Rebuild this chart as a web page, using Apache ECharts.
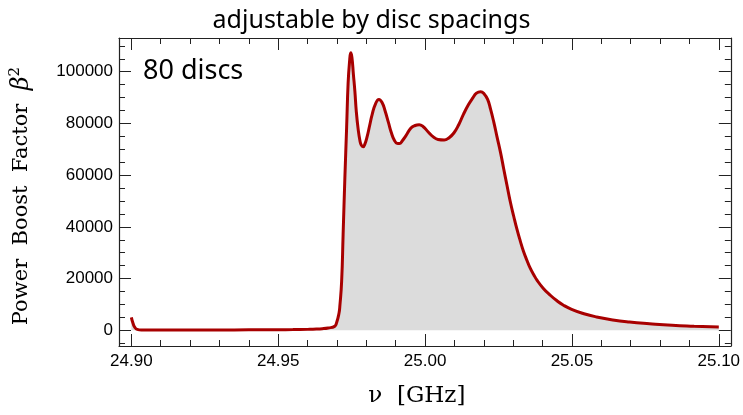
<!DOCTYPE html>
<html>
<head>
<meta charset="utf-8">
<script src="https://cdn.jsdelivr.net/npm/echarts@6/dist/echarts.min.js"></script>
<style>
html,body{margin:0;padding:0;background:#fff;}
#chart{width:743px;height:415px;}
</style>
</head>
<body>
<div id="chart"></div>
<script>
const titleText = 'adjustable by disc spacings';
const annotation = '80 discs';
const freq = [24.9000,24.9006,24.9012,24.9020,24.9035,24.910,24.920,24.930,24.940,24.950,24.955,24.960,24.963,24.965,24.967,
24.9692,24.9699,24.9707,24.9710,24.9716,24.9721,24.9727,24.9733,24.9738,24.9743,24.9747,24.9751,24.9756,24.9761,24.9766,24.9772,24.9778,24.9783,24.9789,24.9795,
24.9803,24.9811,24.9820,24.9831,24.9843,24.9854,24.9864,24.9875,24.9885,24.9895,24.9905,24.9913,24.9922,24.9935,24.9952,24.9966,24.9980,24.9993,
25.0010,25.0027,25.0044,25.0065,25.0081,25.0098,25.0115,25.0131,25.0148,25.0162,25.0175,25.0189,25.0202,25.0213,25.0223,25.0234,25.0245,25.0257,25.0268,25.0279,
25.0290,25.0302,25.0313,25.0324,25.0335,25.0347,25.0358,25.0370,25.0381,25.0402,25.0426,25.0448,25.0470,25.0499,25.0541,25.0584,25.0639,25.0696,25.0764,25.0841,25.0916,25.1000];
const boost = [5000,2600,1100,350,130,100,110,130,160,210,260,350,450,600,900,
1500,3000,6600,9500,19000,37000,59000,78500,95500,104000,107300,105500,99000,92500,84500,78000,73500,71600,71000,72000,
75000,79000,83500,87500,89300,88000,84800,80500,76500,73600,72300,72200,73200,75300,78200,79200,79500,78800,
76800,74900,73800,73600,74400,76300,79600,83600,87300,89800,91700,92300,91300,89300,85500,80500,74800,68700,62300,56000,
49800,44000,39000,34600,30600,27000,24000,21500,19400,16300,13600,11500,9800,8100,6400,5150,4000,3200,2550,1950,1600,1300];
const xMajor = [24.90, 24.95, 25.00, 25.05, 25.10];
const xMinor = [24.91,24.92,24.93,24.94,24.96,24.97,24.98,24.99,25.01,25.02,25.03,25.04,25.06,25.07,25.08,25.09];
const yMajor = [0, 20000, 40000, 60000, 80000, 100000];
const yMinor = [-5000,5000,10000,15000,25000,30000,35000,45000,50000,55000,65000,70000,75000,85000,90000,95000,105000,110000];
const X_MIN = 24.8958, X_MAX = 25.1041;
const Y_MIN = -6080, Y_MAX = 113045;

const frameColor = '#222';
function xAx(pos, values, len, showLine, showLabel) {
  return {
    type: 'value', position: pos, min: X_MIN, max: X_MAX, offset: 0,
    axisLine: {show: showLine, onZero: false, lineStyle: {color: frameColor, width: 1.2}},
    axisTick: {show: true, inside: true, length: len, customValues: values, lineStyle: {color: frameColor, width: 1}},
    axisLabel: showLabel ? {show: true, customValues: values, margin: 7, color: '#000', fontFamily: 'Liberation Sans', fontSize: 17,
      formatter: v => v.toFixed(2)} : {show: false},
    splitLine: {show: false}
  };
}
function yAx(pos, values, len, showLine, showLabel) {
  return {
    type: 'value', position: pos, min: Y_MIN, max: Y_MAX, offset: 0,
    axisLine: {show: showLine, onZero: false, lineStyle: {color: frameColor, width: 1.2}},
    axisTick: {show: true, inside: true, length: len, customValues: values, lineStyle: {color: frameColor, width: 1}},
    axisLabel: showLabel ? {show: true, customValues: values, margin: 6, color: '#000', fontFamily: 'Liberation Sans', fontSize: 17,
      formatter: v => String(v)} : {show: false},
    splitLine: {show: false}
  };
}

const xAxes = [
  xAx('bottom', xMajor, 12, true, true),
  xAx('bottom', xMinor, 6, false, false),
  xAx('top', xMajor, 12, true, false),
  xAx('top', xMinor, 6, false, false)
];
xAxes[0].name = 'ν  [GHz]';
xAxes[0].nameLocation = 'middle';
xAxes[0].nameGap = 39;
xAxes[0].nameTextStyle = {fontFamily: 'DejaVu Serif', fontSize: 23, color: '#000', padding: [0, 16, 0, 0]};

const yAxes = [
  yAx('left', yMajor, 12, true, true),
  yAx('left', yMinor, 6, false, false),
  yAx('right', yMajor, 12, true, false),
  yAx('right', yMinor, 6, false, false)
];
yAxes[0].name = '{t|Power  Boost  Factor  }{b|β}{s|2}';
yAxes[0].nameLocation = 'middle';
yAxes[0].nameGap = 84;
yAxes[0].nameTextStyle = {
  color: '#000',
  padding: [0, 8, 0, 0],
  rich: {
    t: {fontFamily: 'DejaVu Serif', fontSize: 21, color: '#000'},
    b: {fontFamily: 'DejaVu Serif', fontStyle: 'italic', fontSize: 24, color: '#000'},
    s: {fontFamily: 'DejaVu Serif', fontSize: 15, color: '#000', verticalAlign: 'top', padding: [0, 0, 12, 0]}
  }
};

const chart = echarts.init(document.getElementById('chart'), null, {renderer: 'canvas'});
chart.setOption({
  animation: false,
  backgroundColor: '#fff',
  title: {
    text: titleText, left: 'center', top: 3,
    textStyle: {fontFamily: 'Noto Sans', fontWeight: 'normal', fontSize: 25, color: '#000'}
  },
  grid: {left: 116, right: 11, top: 38, bottom: 69},
  xAxis: xAxes,
  yAxis: yAxes,
  graphic: [{
    type: 'text', left: 143, top: 58,
    style: {text: annotation, fontFamily: 'Noto Sans', fontSize: 27, fill: '#000'}
  }],
  series: [{
    type: 'line',
    xAxisIndex: 0, yAxisIndex: 0,
    data: freq.map((f, i) => [f, boost[i]]),
    showSymbol: false,
    smooth: 0.5,
    lineStyle: {color: '#a80000', width: 3},
    itemStyle: {color: '#a80000'},
    areaStyle: {color: '#dcdcdc', opacity: 1, origin: 0},
    clip: true,
    z: 2
  }]
});
</script>
</body>
</html>
